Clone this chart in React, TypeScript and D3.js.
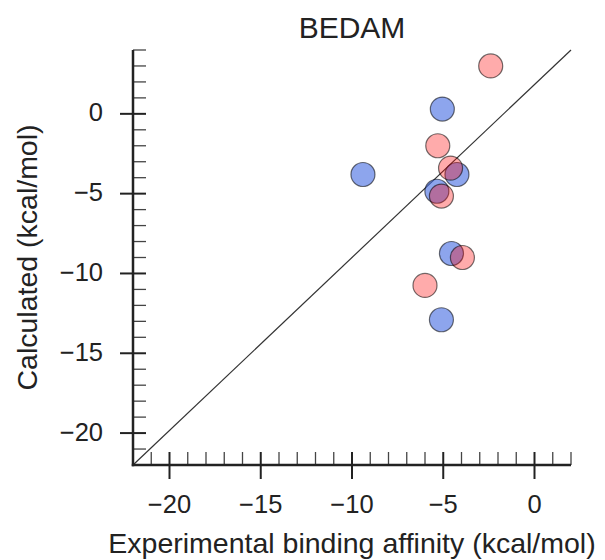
import React from "react";
import * as d3 from "d3";

const blueX = [-5.05, -9.4, -5.35, -4.25, -4.55, -5.1];
const blueY = [0.3, -3.8, -4.85, -3.8, -8.75, -12.9];
const redX = [-2.4, -5.3, -4.6, -5.1, -3.95, -6.0];
const redY = [3.0, -2.0, -3.4, -5.15, -9.0, -10.75];

const xMajor = [-20, -15, -10, -5, 0];
const yMajor = [-20, -15, -10, -5, 0];
const xDomain = [-22, 2];
const yDomain = [-22, 4];

const title = "BEDAM";
const xLabel = "Experimental binding affinity (kcal/mol)";
const yLabel = "Calculated (kcal/mol)";

const W = 605;
const H = 560;
const L = 133, R = 571, T = 50, B = 465;
const FONT = "'Liberation Sans', Arial, Helvetica, sans-serif";
const fmt = (v: number) => (v < 0 ? "\u2212" + Math.abs(v) : String(v));

export default function App() {
  const x = d3.scaleLinear().domain(xDomain).range([L, R]);
  const y = d3.scaleLinear().domain(yDomain).range([B, T]);
  const xMinor = d3.range(xDomain[0] + 1, xDomain[1] + 1).filter((v) => !xMajor.includes(v));
  const yMinor = d3.range(yDomain[0] + 1, yDomain[1] + 1).filter((v) => !yMajor.includes(v));
  const blue = blueX.map((v, i) => [v, blueY[i]]);
  const red = redX.map((v, i) => [v, redY[i]]);
  const diag = d3.line<number[]>().x((d) => x(d[0])).y((d) => y(d[1]))([
    [xDomain[0], yDomain[0]],
    [xDomain[1], yDomain[1]],
  ]);
  return (
    <svg width={W} height={H} style={{ position: "absolute", left: 0, top: 0 }} fontFamily={FONT}>
      <rect width={W} height={H} fill="#fff" />
      <path d={diag || ""} stroke="#333" strokeWidth={1.2} fill="none" />
      {blue.map((d, i) => (
        <circle key={"b" + i} cx={x(d[0])} cy={y(d[1])} r={12} fill="rgb(65,105,225)" fillOpacity={0.6} stroke="rgba(0,0,0,0.55)" strokeWidth={1.2} />
      ))}
      {red.map((d, i) => (
        <circle key={"r" + i} cx={x(d[0])} cy={y(d[1])} r={12} fill="rgb(255,0,0)" fillOpacity={0.33} stroke="rgba(0,0,0,0.55)" strokeWidth={1.2} />
      ))}
      {xMinor.map((v) => (
        <line key={"xm" + v} x1={x(v)} x2={x(v)} y1={B} y2={B - 13} stroke="#444" strokeWidth={1.3} />
      ))}
      {yMinor.map((v) => (
        <line key={"ym" + v} x1={L} x2={L + 13} y1={y(v)} y2={y(v)} stroke="#444" strokeWidth={1.3} />
      ))}
      {xMajor.map((v) => (
        <line key={"xM" + v} x1={x(v)} x2={x(v)} y1={B - 13} y2={B + 14} stroke="#222" strokeWidth={2} />
      ))}
      {yMajor.map((v) => (
        <line key={"yM" + v} x1={L - 13} x2={L + 13} y1={y(v)} y2={y(v)} stroke="#222" strokeWidth={2} />
      ))}
      <line x1={L} x2={L} y1={T} y2={B + 1.25} stroke="#222" strokeWidth={2.5} />
      <line x1={L - 1.25} x2={R} y1={B} y2={B} stroke="#222" strokeWidth={2.5} />
      {xMajor.map((v) => (
        <text key={"xt" + v} x={x(v)} y={513} textAnchor="middle" fontSize={25.5} fill="#222">
          {fmt(v)}
        </text>
      ))}
      {yMajor.map((v) => (
        <text key={"yt" + v} x={103} y={y(v) + 7.5} textAnchor="end" fontSize={25.5} fill="#222">
          {fmt(v)}
        </text>
      ))}
      <text x={(L + R) / 2} y={38} textAnchor="middle" fontSize={30} fill="#222">
        {title}
      </text>
      <text x={(L + R) / 2} y={553} textAnchor="middle" fontSize={28.5} fill="#222">
        {xLabel}
      </text>
      <text transform={`translate(36.5,${(T + B) / 2}) rotate(-90)`} textAnchor="middle" fontSize={28.5} fill="#222">
        {yLabel}
      </text>
    </svg>
  );
}
